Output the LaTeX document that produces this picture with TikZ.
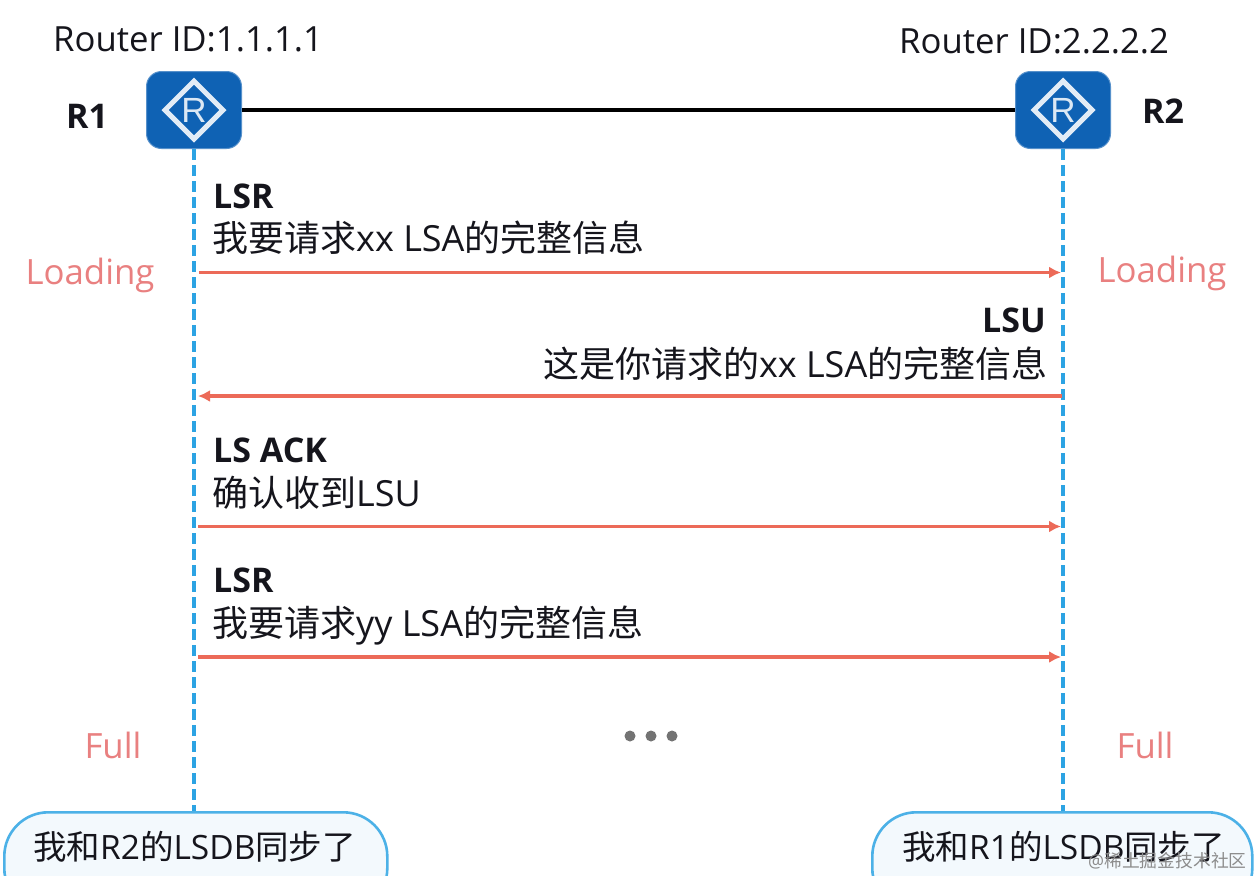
\documentclass[tikz,border=0pt]{standalone}
\usepackage{fontspec}
\setmainfont{Open Sans}
\newfontfamily\cjk{Noto Sans CJK SC}
\newfontfamily\marksans{Liberation Sans}
\usetikzlibrary{arrows.meta,shapes.geometric}
\definecolor{routerblue}{HTML}{0F62B4}
\definecolor{lifeblue}{HTML}{2CA3E3}
\definecolor{msgred}{HTML}{EC6A58}
\definecolor{statered}{HTML}{E98080}
\definecolor{inkblack}{HTML}{15151C}
\definecolor{bubblefill}{HTML}{F3F9FD}
\tikzset{
  x=1pt,y=-1pt,
  routerbox/.style={draw=routerblue!70!white,line width=1pt,fill=routerblue,rounded corners=15pt,minimum width=95pt,minimum height=77pt,inner sep=0pt},
  routermark/.style={diamond,draw=white!88!routerblue,line width=5pt,minimum width=60pt,minimum height=60pt,inner sep=0pt,aspect=1,font=\marksans\fontsize{35}{35}\selectfont,text=white!85!routerblue},
  idtext/.style={anchor=base west,inner sep=0pt,text=inkblack,font=\fontsize{34.7}{36}\selectfont},
  rname/.style={inner sep=0pt,text=inkblack,font=\fontsize{34}{36}\selectfont\bfseries},
  statetext/.style={inner sep=0pt,text=statered,font=\fontsize{34.8}{36}\selectfont},
  msghead/.style={inner sep=0pt,anchor=base west,text=inkblack,font=\fontsize{34}{36}\selectfont\bfseries},
  msgbody/.style={inner sep=0pt,anchor=base west,text=inkblack,font=\fontsize{36}{36}\selectfont},
  life/.style={draw=lifeblue,line width=3.2pt,dash pattern=on 11pt off 5pt},
  msg/.style={draw=msgred,line width=3.4pt,-{Latex[length=12pt,width=12pt]}},
  bubble/.style={draw=lifeblue!85!white,line width=2.6pt,fill=bubblefill,rounded corners=44pt,minimum height=100pt,inner sep=0pt},
  bubbletext/.style={inner sep=0pt,anchor=base west,text=inkblack,font=\fontsize{33.5}{36}\selectfont},
  dot/.style={circle,fill=black!55,inner sep=0pt,minimum size=11pt},
  wm/.style={inner sep=0pt,anchor=base west,text=black!45,font=\fontsize{17.8}{20}\selectfont},
}
\begin{document}
\begin{tikzpicture}
\clip (0,0) rectangle (1254,876);
\fill[white] (0,0) rectangle (1254,876);
% routers
\node[routerbox] (r1) at (194,110) {};
\node[routerbox] (r2) at (1063,110) {};
\node[routermark] (m1) at (194,110) {R};
\node[routermark] (m2) at (1063,110) {R};
\draw[black,line width=3.4pt] (r1) -- (r2);
\node[idtext] (id1) at (53,51) {Router ID:1.1.1.1};
\node[idtext] (id2) at (899,53) {Router ID:2.2.2.2};
\node[rname] (n1) at (87,116) {R1};
\node[rname] (n2) at (1163,111) {R2};
% bubbles
\node[bubble,minimum width=383pt,anchor=north west] (b1) at (3,811) {};
\node[bubble,minimum width=380pt,anchor=north west] (b2) at (871,811) {};
\node[bubbletext] (bt1) at (33,859) {{\cjk 我和}R2{\cjk 的}LSDB{\cjk 同步了}};
\node[bubbletext] (bt2) at (902,859) {{\cjk 我和}R1{\cjk 的}LSDB{\cjk 同步了}};
% lifelines
\coordinate (l1) at (194,811);
\coordinate (l2) at (1063,811);
\draw[life] (r1.south) -- (l1);
\draw[life] (r2.south) -- (l2);
% messages
\coordinate (a1s) at (199,272.5); \coordinate (a1e) at (1061,272.5);
\coordinate (a2s) at (1062,396); \coordinate (a2e) at (198,396);
\coordinate (a3s) at (198,526.5); \coordinate (a3e) at (1061,526.5);
\coordinate (a4s) at (198,657); \coordinate (a4e) at (1061,657);
\draw[msg] (a1s) -- (a1e);
\draw[msg] (a2s) -- (a2e);
\draw[msg] (a3s) -- (a3e);
\draw[msg] (a4s) -- (a4e);
\node[msghead] (h1) at (213,208.5) {LSR};
\node[msgbody] (t1) at (212,251.5) {{\cjk 我要请求}xx LSA{\cjk 的完整信息}};
\node[msghead,anchor=base east] (h2) at (1046,332.5) {LSU};
\node[msgbody,anchor=base east] (t2) at (1047.5,377) {{\cjk 这是你请求的}xx LSA{\cjk 的完整信息}};
\node[msghead] (h3) at (213,462.5) {LS ACK};
\node[msgbody] (t3) at (212,506) {{\cjk 确认收到}LSU};
\node[msghead] (h4) at (213,592.5) {LSR};
\node[msgbody] (t4) at (212,636) {{\cjk 我要请求}yy LSA{\cjk 的完整信息}};
% states
\node[statetext] (s1) at (90,275) {Loading};
\node[statetext] (s2) at (1162,273) {Loading};
\node[statetext] (s3) at (113,745) {Full};
\node[statetext] (s4) at (1145,745) {Full};
% dots
\node[dot] (d1) at (630,736) {};
\node[dot] (d2) at (651,736) {};
\node[dot] (d3) at (672,736) {};
% watermark
\node[wm] (w) at (1088,867) {@{\cjk 稀土掘金技术社区}};
\end{tikzpicture}
\end{document}
